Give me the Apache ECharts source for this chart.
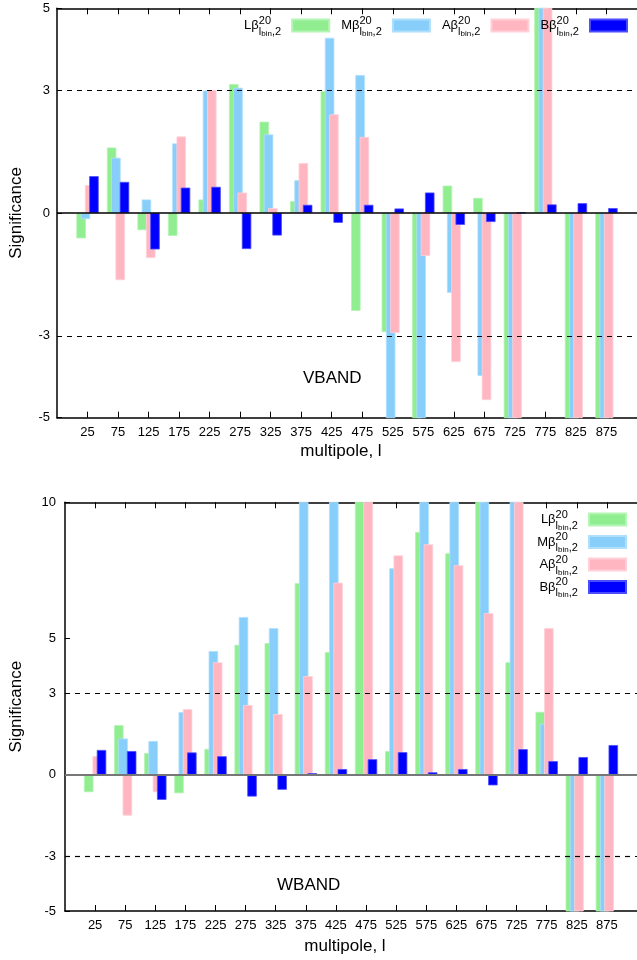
<!DOCTYPE html>
<html>
<head>
<meta charset="utf-8">
<script src="https://cdn.jsdelivr.net/npm/echarts@6/dist/echarts.min.js"></script>
<style>
html, body { margin: 0; padding: 0; background: #fff; }
#chart { width: 637px; height: 960px; }
</style>
</head>
<body>
<div id="chart"></div>
<script>
// Multipole bin centres (x positions of the bar groups)
const multipoles = [25, 75, 125, 175, 225, 275, 325, 375, 425, 475, 525, 575, 625, 675, 725, 775, 825, 875];

// Tick labels
const xTicks = multipoles;
const vbandYTicks = [-5, -3, 0, 3, 5];
const wbandYTicks = [-5, -3, 0, 3, 5, 10];

// Series keys, drawn in this order (later ones on top)
const seriesKeys = ['L', 'M', 'A', 'B'];

// VBAND significances
const vbandL = [-0.62, 1.60, -0.42, -0.56, 0.33, 3.15, 2.23, 0.29, 2.98, -2.39, -2.91, -6.5, 0.67, 0.37, -6.5, 6.5, -6.5, -6.5];
const vbandM = [-0.15, 1.35, 0.33, 1.70, 2.99, 3.06, 1.92, 0.80, 4.28, 3.37, -6.5, -6.5, -1.95, -3.98, -6.5, 6.5, -6.5, -6.5];
const vbandA = [0.68, -1.64, -1.10, 1.87, 3.00, 0.50, 0.12, 1.22, 2.41, 1.86, -2.93, -1.05, -3.64, -4.57, -6.5, 6.5, -6.5, -6.5];
const vbandB = [0.90, 0.76, -0.89, 0.62, 0.64, -0.88, -0.55, 0.20, -0.24, 0.20, 0.11, 0.50, -0.29, -0.22, 0.01, 0.21, 0.24, 0.12];

// WBAND significances
const wbandL = [-0.64, 1.82, 0.80, -0.68, 0.95, 4.77, 4.83, 7.03, 4.50, 12, 0.87, 8.91, 8.13, 12, 4.13, 2.31, -6.5, -6.5];
const wbandM = [-0.05, 1.33, 1.24, 2.30, 4.54, 5.79, 5.38, 12, 12, 0, 7.58, 12, 12, 12, 12, 1.87, -6.5, -6.5];
const wbandA = [0.68, -1.50, -0.64, 2.41, 4.13, 2.56, 2.23, 3.62, 7.05, 12, 8.05, 8.46, 7.69, 5.93, 12, 5.38, -6.5, -6.5];
const wbandB = [0.91, 0.87, -0.92, 0.82, 0.68, -0.80, -0.55, 0.06, 0.21, 0.57, 0.83, 0.09, 0.21, -0.39, 0.94, 0.50, 0.65, 1.09];

const colors = { L: '#90ee90', M: '#87cefa', A: '#ffb6c1', B: '#0000ff' };
const borders = { L: '#b4f4b4', M: '#b0dffc', A: '#ffd0d8', B: '#4c4cff' };
const FONT = '"Liberation Sans", Arial, Helvetica, sans-serif';

const chart = echarts.init(document.getElementById('chart'), null, { renderer: 'canvas' });

function pairs(values) {
  return multipoles.map((x, i) => [x, values[i]]);
}

function xAxis(gridIndex, position, withLabels, nameGap) {
  return {
    type: 'value',
    gridIndex: gridIndex,
    position: position,
    min: -25,
    max: 925,
    name: withLabels ? 'multipole, l' : '',
    nameLocation: 'middle',
    nameGap: nameGap,
    nameTextStyle: { fontFamily: FONT, fontSize: 17, color: '#000', padding: [0, 12, 0, 0] },
    axisLine: { show: true, onZero: false, lineStyle: { color: '#000', width: 1.5 } },
    axisTick: { show: true, inside: true, length: 6, customValues: xTicks, lineStyle: { color: '#000', width: 1 } },
    axisLabel: { show: withLabels, customValues: xTicks, margin: 8, fontFamily: FONT, fontSize: 13, color: '#000' },
    splitLine: { show: false }
  };
}

function yAxis(gridIndex, min, max, ticks, nameGap, labelMargin) {
  return {
    type: 'value',
    gridIndex: gridIndex,
    min: min,
    max: max,
    name: 'Significance',
    nameLocation: 'middle',
    nameGap: nameGap,
    nameTextStyle: { fontFamily: FONT, fontSize: 17, color: '#000' },
    axisLine: { show: true, onZero: false, lineStyle: { color: '#000', width: 1.5 } },
    axisTick: { show: true, inside: true, length: 5, customValues: ticks, lineStyle: { color: '#000', width: 1 } },
    axisLabel: { customValues: ticks, margin: labelMargin, fontFamily: FONT, fontSize: 13, color: '#000' },
    splitLine: { show: false }
  };
}

function refLines(zeroColor, zeroWidth) {
  return {
    silent: true,
    symbol: 'none',
    animation: false,
    label: { show: false },
    lineStyle: { color: '#000', width: 1.2, type: [5, 5] },
    data: [
      { yAxis: 3 },
      { yAxis: -3 },
      { yAxis: 0, lineStyle: { type: 'solid', color: zeroColor, width: zeroWidth } }
    ]
  };
}

function barSeries(key, values, xIndex, yIndex, lines) {
  const s = {
    type: 'bar',
    name: key,
    xAxisIndex: xIndex,
    yAxisIndex: yIndex,
    data: pairs(values),
    barWidth: 9.5,
    barGap: '-55%',
    clip: true,
    animation: false,
    itemStyle: { color: colors[key], borderColor: borders[key], borderWidth: 0.8 }
  };
  if (lines) s.markLine = lines;
  return s;
}

// β^{20}_{l_bin,2}: superscript takes no width so the subscript sits beneath it
const legendRich = {
  m: { fontFamily: FONT, fontSize: 13, color: '#000', align: 'left' },
  sup: { fontFamily: FONT, fontSize: 11, color: '#000', align: 'left', width: 0, padding: [0, 0, 10, 0] },
  sub: { fontFamily: FONT, fontSize: 11, color: '#000', align: 'left', padding: [12, 0, 0, 0] },
  ss: { fontFamily: FONT, fontSize: 8, color: '#000', align: 'left', padding: [16, 0, 0, 0] },
  gap: { fontFamily: FONT, fontSize: 11, color: '#000', align: 'left' }
};

function legendLabel(name) {
  return '{m|' + name + 'β}{sup|20}{sub|l}{ss|bin}{sub|,2}{gap|  }';
}

const option = {
  backgroundColor: '#fff',
  animation: false,
  grid: [
    { left: 56, top: 8.3, width: 586, height: 409.4 },
    { left: 64, top: 502.3, width: 578, height: 408.7 }
  ],
  xAxis: [
    xAxis(0, 'bottom', true, 25),
    xAxis(0, 'top', false, 0),
    xAxis(1, 'bottom', true, 27),
    xAxis(1, 'top', false, 0)
  ],
  yAxis: [
    yAxis(0, -5, 5, vbandYTicks, 32, 7),
    yAxis(1, -5, 10, wbandYTicks, 40, 9)
  ],
  legend: [
    {
      data: seriesKeys,
      orient: 'horizontal',
      right: 9,
      top: 15,
      padding: 0,
      align: 'right',
      itemWidth: 37,
      itemHeight: 12,
      itemGap: 11,
      selectedMode: false,
      icon: 'rect',
      formatter: legendLabel,
      textStyle: { rich: legendRich }
    },
    {
      data: seriesKeys,
      orient: 'vertical',
      right: 10,
      top: 509,
      padding: 0,
      align: 'right',
      itemWidth: 37,
      itemHeight: 12,
      itemGap: 0,
      selectedMode: false,
      icon: 'rect',
      formatter: legendLabel,
      textStyle: { rich: legendRich }
    }
  ],
  graphic: [
    { type: 'text', x: 303, y: 378, style: { text: 'VBAND', font: '17px "Liberation Sans", Arial, sans-serif', fill: '#000', verticalAlign: 'middle' } },
    { type: 'text', x: 277, y: 885, style: { text: 'WBAND', font: '17px "Liberation Sans", Arial, sans-serif', fill: '#000', verticalAlign: 'middle' } }
  ],
  series: [
    barSeries('L', vbandL, 0, 0),
    barSeries('M', vbandM, 0, 0),
    barSeries('A', vbandA, 0, 0),
    barSeries('B', vbandB, 0, 0, refLines('#000', 1.5)),
    barSeries('L', wbandL, 2, 1),
    barSeries('M', wbandM, 2, 1),
    barSeries('A', wbandA, 2, 1),
    barSeries('B', wbandB, 2, 1, refLines('#777', 2))
  ]
};

chart.setOption(option);
</script>
</body>
</html>
